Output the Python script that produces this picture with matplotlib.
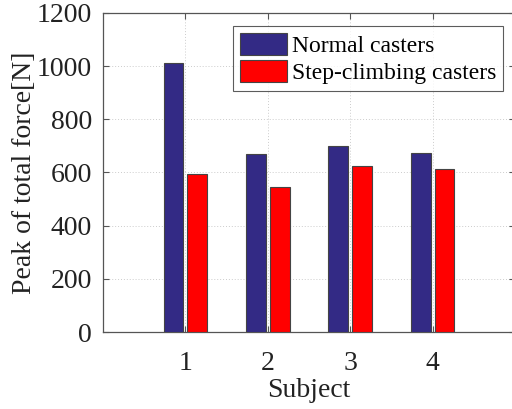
import numpy as np
import matplotlib
matplotlib.use("Agg")
import matplotlib.pyplot as plt

subjects = [1, 2, 3, 4]
normal = [1013, 670, 699, 672]
step = [594, 544, 625, 614]
series_labels = ["Normal casters", "Step-climbing casters"]

plt.rcParams["font.family"] = ["Liberation Serif", "DejaVu Serif"]

fig = plt.figure(figsize=(5.12, 4.09), dpi=100)
ax = fig.add_axes([103 / 512, 1 - 332 / 409, 412 / 512, 319 / 409])

x = np.array(subjects)
w = 0.24
ax.bar(x - 0.145, normal, w, color="#332a85", edgecolor="#444444", linewidth=0.8,
       label=series_labels[0], zorder=3)
ax.bar(x + 0.145, step, w, color="#ff0000", edgecolor="#444444", linewidth=0.8,
       label=series_labels[1], zorder=3)

ax.set_xlim(0, 5)
ax.set_ylim(0, 1200)
ax.set_xticks(subjects)
ax.set_yticks(range(0, 1201, 200))
ax.grid(True, linestyle=(0, (1, 2)), color="#cccccc", linewidth=0.7, zorder=0)
ax.tick_params(direction="in", top=True, right=True, labelsize=20, colors="#555555",
               labelcolor="#222222", length=4, width=0.8)
ax.tick_params(axis="x", pad=14)
ax.tick_params(axis="y", pad=8)
for s in ax.spines.values():
    s.set_color("#555555")
    s.set_linewidth(0.9)

ax.set_xlabel("Subject", fontsize=20, color="#222222", labelpad=1)
ax.set_ylabel("Peak of total force[N]", fontsize=20, color="#222222", labelpad=0)

leg = ax.legend(loc="upper right", bbox_to_anchor=(0.971, 0.959), fontsize=17,
                frameon=True, fancybox=False, edgecolor="#333333",
                handlelength=2.0, handleheight=1.05, handletextpad=0.2,
                labelspacing=0.12, borderpad=0.3, borderaxespad=0)
leg.get_frame().set_linewidth(0.8)

fig.savefig("out.png", dpi=100)
